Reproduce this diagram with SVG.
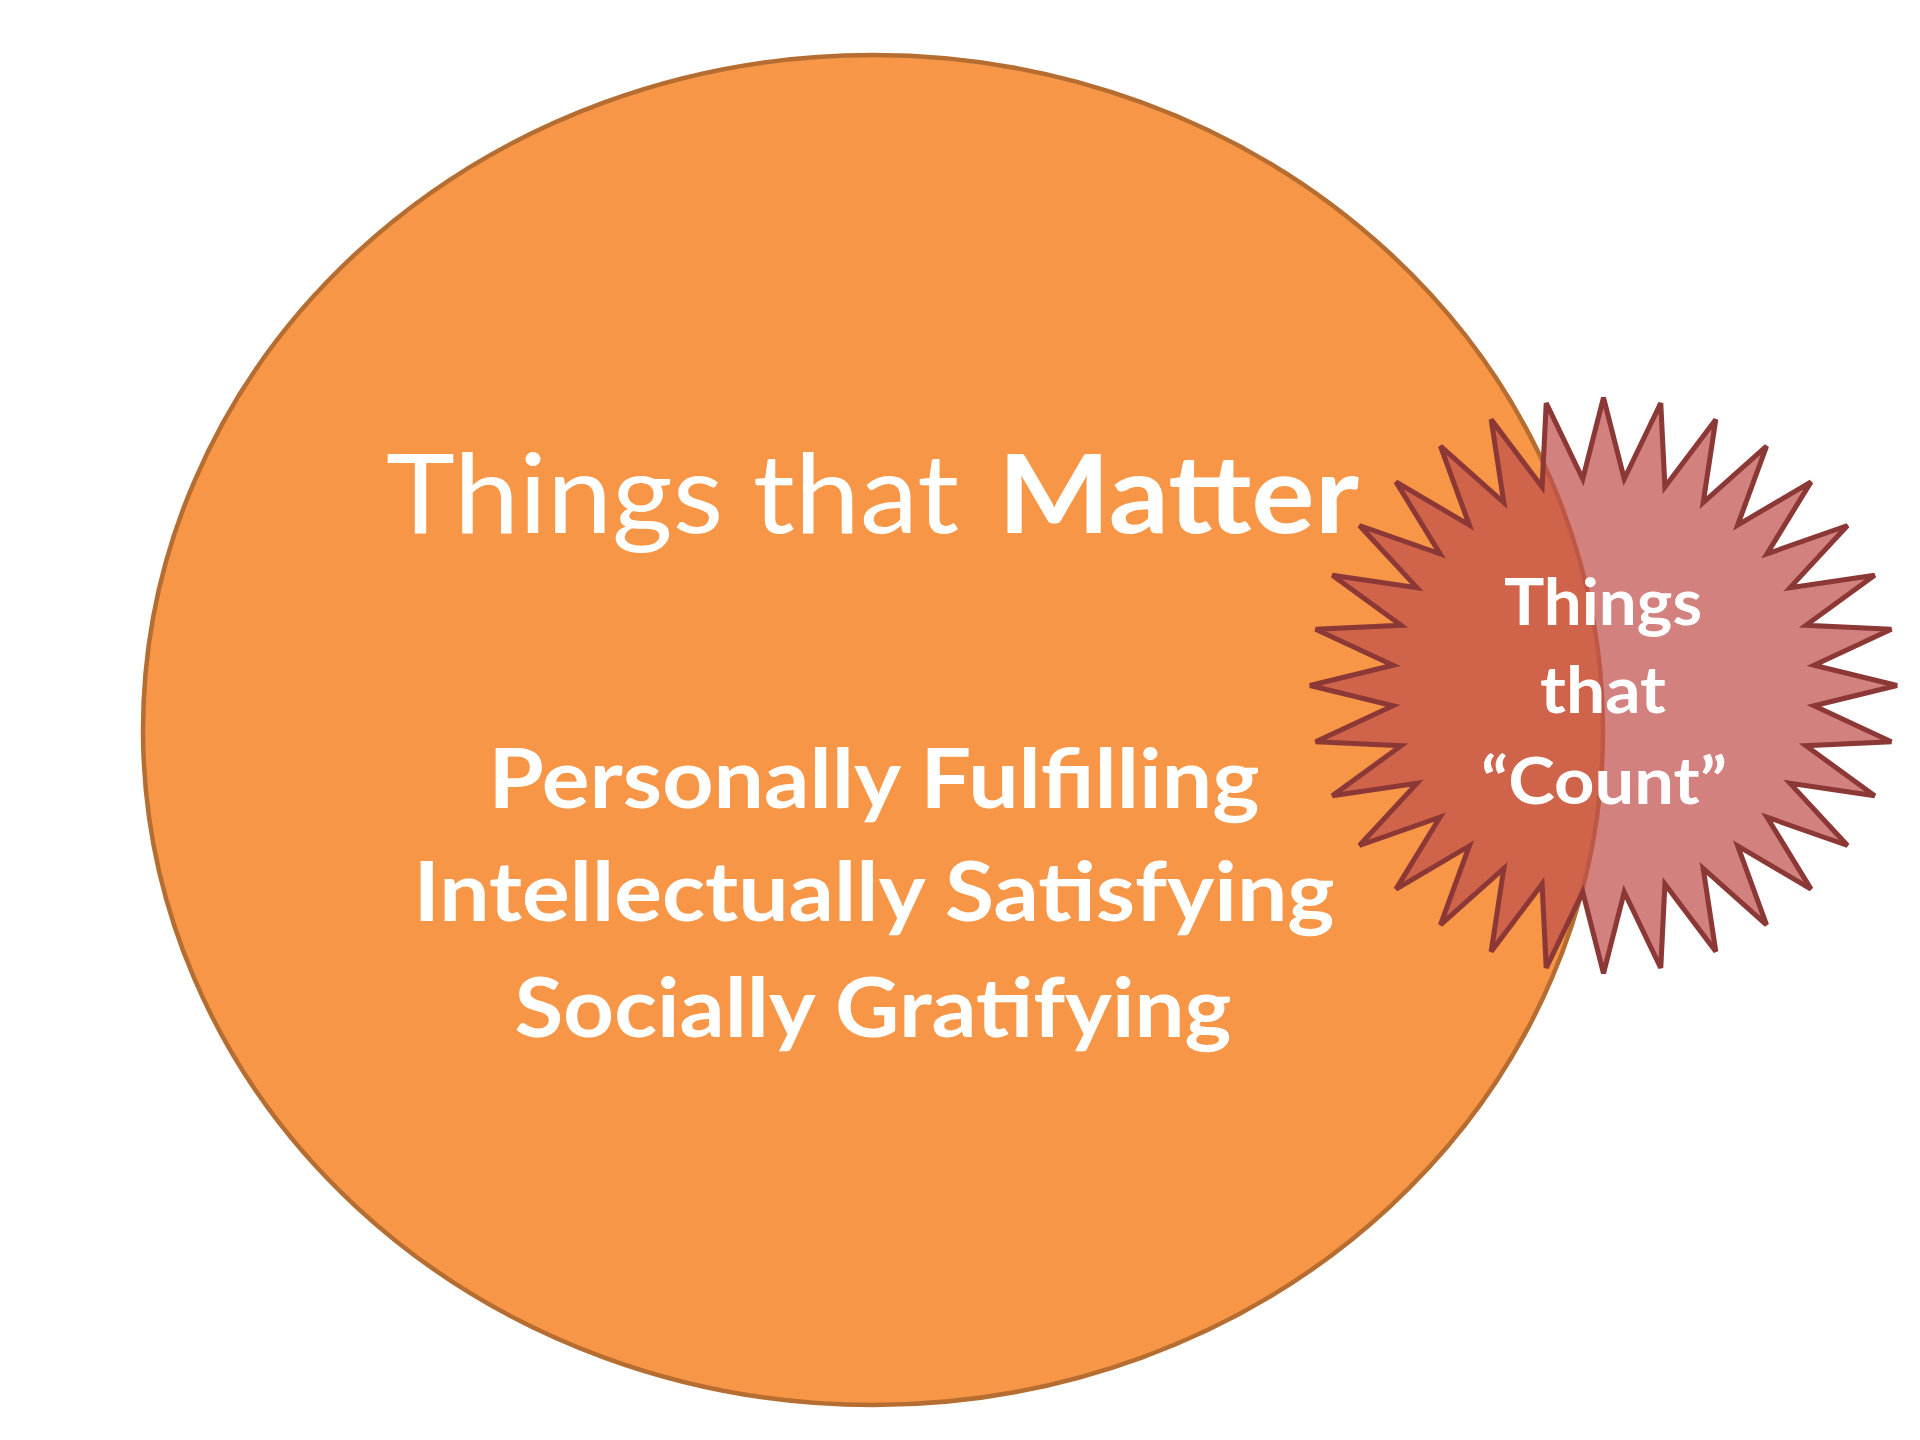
<svg xmlns="http://www.w3.org/2000/svg" width="1920" height="1440" viewBox="0 0 1920 1440">
<style>
.t{font-family:Lato,"Open Sans","Liberation Sans",sans-serif;fill:#ffffff}
.r{font-weight:400}
.b{font-weight:700}
</style>
<rect x="0" y="0" width="1920" height="1440" fill="#ffffff"/>
<g id="matter">
<ellipse cx="873" cy="730" rx="730" ry="675" fill="#F79646" stroke="#B66D31" stroke-width="4.5"/>
<text class="t r" x="386" y="533" font-size="110" textLength="573" lengthAdjust="spacingAndGlyphs">Things that</text>
<text class="t b" x="998" y="533" font-size="110" textLength="361" lengthAdjust="spacingAndGlyphs">Matter</text>
<text class="t b" x="874" y="808" font-size="83" text-anchor="middle" textLength="771" lengthAdjust="spacingAndGlyphs">Personally Fulfilling</text>
<text class="t b" x="874" y="921" font-size="83" text-anchor="middle" textLength="921" lengthAdjust="spacingAndGlyphs">Intellectually Satisfying</text>
<text class="t b" x="873" y="1037" font-size="83" text-anchor="middle" textLength="717" lengthAdjust="spacingAndGlyphs">Socially Gratifying</text>
</g>
<g id="count">
<polygon transform="translate(1603.5,685.5) scale(1.012,0.993)" fill="#C0504D" fill-opacity="0.72" stroke="#8C3836" stroke-width="5" stroke-linejoin="miter" points="0,-290 20.49,-207.99 56.58,-284.43 60.67,-200 110.98,-267.93 98.52,-184.32 161.12,-241.13 132.59,-161.56 205.06,-205.06 161.56,-132.59 241.13,-161.12 184.32,-98.52 267.93,-110.98 200,-60.67 284.43,-56.58 207.99,-20.49 290,0 207.99,20.49 284.43,56.58 200,60.67 267.93,110.98 184.32,98.52 241.13,161.12 161.56,132.59 205.06,205.06 132.59,161.56 161.12,241.13 98.52,184.32 110.98,267.93 60.67,200 56.58,284.43 20.49,207.99 0,290 -20.49,207.99 -56.58,284.43 -60.67,200 -110.98,267.93 -98.52,184.32 -161.12,241.13 -132.59,161.56 -205.06,205.06 -161.56,132.59 -241.13,161.12 -184.32,98.52 -267.93,110.98 -200,60.67 -284.43,56.58 -207.99,20.49 -290,0 -207.99,-20.49 -284.43,-56.58 -200,-60.67 -267.93,-110.98 -184.32,-98.52 -241.13,-161.12 -161.56,-132.59 -205.06,-205.06 -132.59,-161.56 -161.12,-241.13 -98.52,-184.32 -110.98,-267.93 -60.67,-200 -56.58,-284.43 -20.49,-207.99"/>
<text class="t b" x="1603" y="625" font-size="65" text-anchor="middle" textLength="198" lengthAdjust="spacingAndGlyphs">Things</text>
<text class="t b" x="1603" y="713" font-size="65" text-anchor="middle" textLength="126" lengthAdjust="spacingAndGlyphs">that</text>
<text class="t b" x="1604" y="804" font-size="65" text-anchor="middle" textLength="246" lengthAdjust="spacingAndGlyphs">“Count”</text>
</g>
<g id="connectors"/>
</svg>
